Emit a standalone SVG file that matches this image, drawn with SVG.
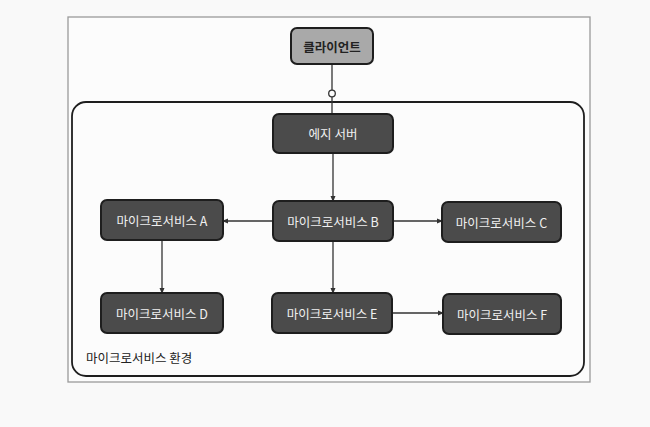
<svg xmlns="http://www.w3.org/2000/svg" width="650" height="427" viewBox="0 0 650 427">
<defs>
<marker id="arr" markerWidth="6" markerHeight="6" refX="5" refY="3" orient="auto" markerUnits="userSpaceOnUse">
<path d="M0,0.5 L6,3 L0,5.5 Z" fill="#333"/>
</marker>
<style>
.node rect{fill:#4b4b4b;stroke:#1e1e1e;stroke-width:2}
.node text{fill:#f0f0f0;font-family:"Noto Sans CJK KR","Noto Sans",sans-serif;font-size:12.5px;text-anchor:middle;dominant-baseline:central}
#client rect{fill:#a9a9a9}
#client text{fill:#222;font-weight:bold}
.conn line{stroke:#333;stroke-width:1.3;fill:none}
</style>
</defs>
<rect x="0" y="0" width="650" height="427" fill="#f9f9f9"/>
<rect x="68" y="17" width="522" height="365" fill="#fcfcfc" stroke="#9a9a9a" stroke-width="1.3"/>
<g id="environment">
<rect x="72" y="102" width="512" height="274" rx="14" fill="none" stroke="#1e1e1e" stroke-width="1.8"/>
<text x="86" y="357" font-family="&quot;Noto Sans CJK KR&quot;,&quot;Noto Sans&quot;,sans-serif" font-size="12.5" fill="#222" dominant-baseline="central">마이크로서비스 환경</text>
</g>
<g class="conn" id="connectors">
<line x1="332" y1="64" x2="332" y2="90"/>
<circle cx="332" cy="93.5" r="3.3" fill="#fcfcfc" stroke="#333" stroke-width="1.3"/>
<line x1="332" y1="97" x2="332" y2="114"/>
<line x1="333" y1="153" x2="333" y2="201" marker-end="url(#arr)"/>
<line x1="273" y1="221" x2="223" y2="221" marker-end="url(#arr)"/>
<line x1="393" y1="221" x2="442" y2="221" marker-end="url(#arr)"/>
<line x1="162" y1="240" x2="162" y2="293" marker-end="url(#arr)"/>
<line x1="333" y1="241" x2="333" y2="293" marker-end="url(#arr)"/>
<line x1="392" y1="313" x2="443" y2="313" marker-end="url(#arr)"/>
</g>
<g class="node" id="client"><rect x="291" y="28" width="82" height="36" rx="6"/><text x="332" y="46">클라이언트</text></g>
<g class="node" id="edge"><rect x="273" y="114" width="120" height="39" rx="6"/><text x="333" y="133.5">에지 서버</text></g>
<g class="node" id="msA"><rect x="101" y="200" width="122" height="40" rx="6"/><text x="162" y="220">마이크로서비스 A</text></g>
<g class="node" id="msB"><rect x="273" y="201" width="120" height="40" rx="6"/><text x="333" y="221">마이크로서비스 B</text></g>
<g class="node" id="msC"><rect x="442" y="202" width="119" height="40" rx="6"/><text x="501.5" y="222">마이크로서비스 C</text></g>
<g class="node" id="msD"><rect x="101" y="293" width="122" height="40" rx="6"/><text x="162" y="313">마이크로서비스 D</text></g>
<g class="node" id="msE"><rect x="272" y="293" width="120" height="40" rx="6"/><text x="332" y="313">마이크로서비스 E</text></g>
<g class="node" id="msF"><rect x="443" y="294" width="118" height="40" rx="6"/><text x="502" y="314">마이크로서비스 F</text></g>
</svg>
